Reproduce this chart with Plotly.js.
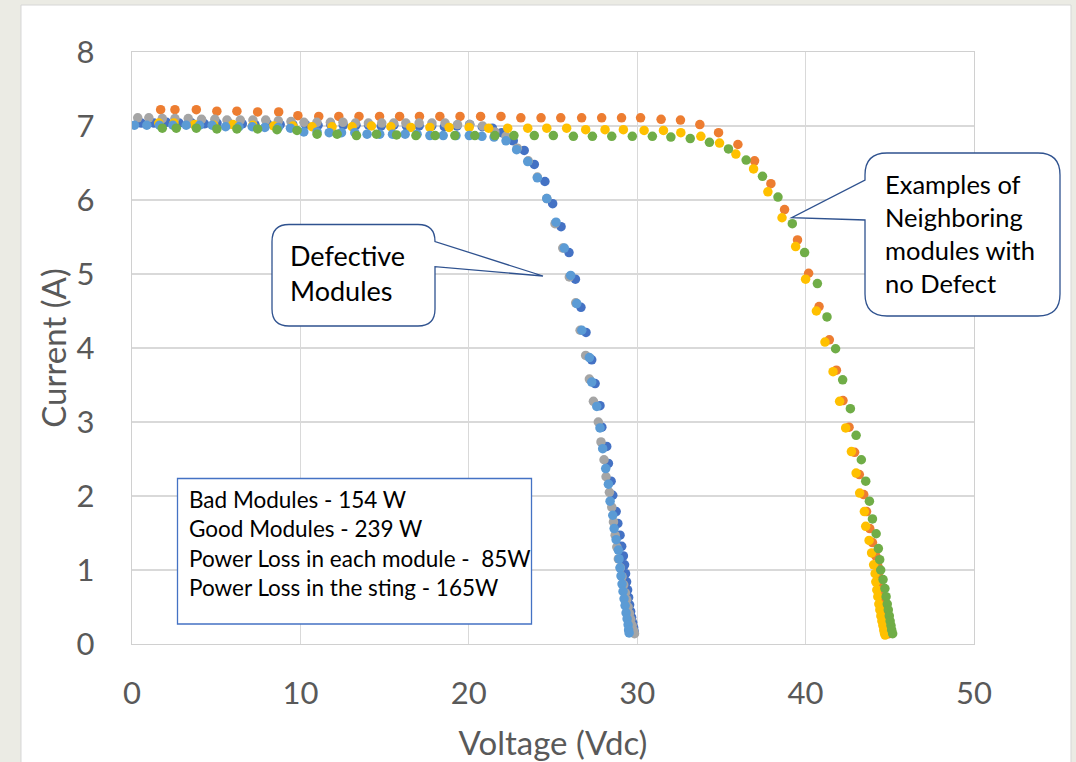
<!DOCTYPE html>
<html>
<head>
<meta charset="utf-8">
<script src="https://cdn.plot.ly/plotly-3.0.1.min.js"></script>
<style>html,body{margin:0;padding:0;background:#ebebe4;}#chart{width:1076px;height:762px;}</style>
</head>
<body>
<div id="chart"></div>
<script>
// ---- Data ----
// Defective modules
const voltsDark = [0.55,1.30,2.05,2.80,3.55,4.30,5.05,5.80,6.55,7.30,8.05,8.80,9.55,10.30,11.05,11.80,12.55,13.30,14.05,14.80,15.55,16.30,17.05,17.80,18.55,19.30,20.05,20.80,21.40,21.95,22.64,23.29,23.89,24.52,24.98,25.48,25.95,26.33,26.66,26.96,27.30,27.50,27.79,27.90,28.19,28.29,28.45,28.55,28.75,28.85,28.98,29.08,29.18,29.25,29.31,29.37,29.43,29.49,29.55,29.61,29.67,29.73,29.79,29.82];
const ampsDark  = [7.04,7.04,7.05,7.04,7.04,7.03,7.04,7.03,7.03,7.02,7.03,7.02,7.02,7.02,7.01,7.02,7.01,7.01,7.01,7.00,7.01,7.00,7.00,7.00,6.99,7.00,7.02,6.99,6.97,6.91,6.80,6.67,6.48,6.25,5.95,5.64,5.29,4.93,4.55,4.21,3.84,3.52,3.22,2.93,2.67,2.44,2.20,2.01,1.79,1.63,1.47,1.32,1.19,1.07,0.95,0.84,0.73,0.63,0.53,0.44,0.36,0.29,0.22,0.17];

const voltsGrey = [0.34,1.00,1.80,2.55,3.34,4.13,4.92,5.64,6.43,7.18,7.94,8.69,9.44,10.21,10.98,11.78,12.53,13.27,14.04,14.83,15.54,16.26,17.05,17.81,18.59,19.33,20.06,20.82,21.55,22.21,22.88,23.53,24.07,24.63,25.12,25.58,25.97,26.35,26.61,26.94,27.16,27.40,27.69,27.85,28.03,28.15,28.35,28.49,28.59,28.69,28.79,28.88,29.00,29.10,29.20,29.30,29.38,29.46,29.54,29.62,29.70,29.78,29.84];
const ampsGrey  = [7.11,7.11,7.10,7.10,7.10,7.09,7.09,7.08,7.08,7.08,7.08,7.07,7.06,7.05,7.05,7.05,7.05,7.04,7.04,7.04,7.04,7.04,7.04,7.04,7.04,7.02,7.02,7.00,6.92,6.86,6.70,6.53,6.31,6.02,5.68,5.35,4.96,4.61,4.24,3.90,3.58,3.28,3.00,2.73,2.49,2.26,2.05,1.85,1.65,1.47,1.31,1.15,1.03,0.91,0.80,0.69,0.60,0.50,0.41,0.33,0.25,0.18,0.14];

const voltsLightBlue = [0.15,0.88,1.63,2.43,3.22,4.01,4.76,5.56,6.35,7.14,7.89,8.69,9.41,10.20,10.99,11.71,12.44,13.23,13.96,14.71,15.47,16.22,16.93,17.69,18.48,19.24,20.03,20.78,21.50,22.21,22.84,23.50,24.07,24.63,25.18,25.67,26.05,26.41,26.71,27.16,27.30,27.60,27.79,27.95,28.13,28.29,28.39,28.55,28.63,28.75,28.88,28.92,28.98,29.04,29.10,29.16,29.22,29.28,29.34,29.40,29.46,29.49,29.52];
const ampsLightBlue  = [7.01,7.01,7.01,7.01,7.01,7.01,7.01,6.99,6.99,6.99,6.98,6.98,6.97,6.92,6.92,6.91,6.91,6.91,6.89,6.89,6.89,6.89,6.89,6.87,6.87,6.87,6.87,6.86,6.85,6.80,6.68,6.52,6.30,6.02,5.70,5.35,4.98,4.60,4.24,3.87,3.54,3.21,2.92,2.64,2.37,2.16,1.93,1.74,1.56,1.41,1.27,1.15,1.03,0.92,0.81,0.71,0.61,0.52,0.42,0.34,0.26,0.19,0.15];

// Neighbouring modules with no defect
const voltsOrange = [1.70,2.55,3.82,5.04,6.23,7.46,8.71,9.85,11.09,12.28,13.48,14.70,15.89,17.07,18.28,19.48,20.70,21.91,23.09,24.29,25.46,26.70,27.89,29.07,30.20,31.42,32.57,33.72,34.83,35.98,36.97,37.94,38.75,39.52,40.18,40.80,41.41,41.83,42.22,42.58,42.91,43.19,43.45,43.62,43.81,43.97,44.17,44.29,44.38,44.47,44.56,44.65,44.74,44.80,44.86,44.92,44.95];
const ampsOrange  = [7.22,7.22,7.22,7.20,7.20,7.19,7.19,7.14,7.13,7.13,7.13,7.13,7.13,7.13,7.13,7.13,7.13,7.13,7.11,7.11,7.11,7.11,7.11,7.11,7.11,7.09,7.08,7.02,6.91,6.75,6.53,6.22,5.87,5.46,5.01,4.56,4.11,3.70,3.29,2.93,2.59,2.29,2.02,1.79,1.56,1.37,1.19,1.05,0.90,0.76,0.64,0.53,0.44,0.35,0.26,0.19,0.14];

const voltsYellow = [1.59,2.49,3.72,4.86,5.99,7.18,8.41,9.56,10.69,11.88,13.07,14.22,15.37,16.56,17.69,18.83,20.02,21.18,22.31,23.50,24.63,25.81,26.94,28.09,29.18,30.41,31.56,32.59,33.78,34.89,35.86,36.91,37.76,38.60,39.41,40.00,40.64,41.15,41.63,42.02,42.38,42.72,43.00,43.21,43.49,43.57,43.77,43.92,44.04,44.13,44.17,44.23,44.29,44.35,44.41,44.47,44.53,44.59,44.64,44.68,44.72];
const ampsYellow  = [7.04,7.04,7.02,7.01,7.02,7.01,7.00,7.00,6.99,6.99,6.99,7.00,6.99,6.98,6.98,6.98,6.98,6.97,6.97,6.97,6.97,6.97,6.95,6.95,6.95,6.94,6.94,6.91,6.86,6.77,6.62,6.42,6.11,5.76,5.37,4.93,4.50,4.08,3.68,3.28,2.92,2.60,2.31,2.04,1.79,1.59,1.40,1.23,1.07,0.95,0.84,0.73,0.64,0.54,0.46,0.38,0.31,0.25,0.19,0.15,0.12];

const voltsGreen = [1.80,2.63,3.82,5.04,6.23,7.46,8.61,9.80,10.99,12.18,13.33,14.52,15.71,16.86,18.00,19.17,20.36,21.55,22.68,23.89,25.02,26.21,27.34,28.49,29.71,30.90,32.00,33.15,34.29,35.42,36.47,37.44,38.36,39.21,39.94,40.70,41.27,41.78,42.20,42.66,43.00,43.31,43.57,43.79,43.97,44.19,44.32,44.40,44.46,44.60,44.71,44.78,44.85,44.91,44.97,45.02,45.07,45.11,45.17];
const ampsGreen  = [6.97,6.97,6.97,6.96,6.96,6.96,6.95,6.94,6.89,6.89,6.87,6.89,6.88,6.87,6.87,6.87,6.87,6.87,6.87,6.87,6.87,6.86,6.86,6.86,6.86,6.86,6.85,6.83,6.78,6.69,6.54,6.32,6.04,5.68,5.29,4.87,4.42,3.99,3.57,3.18,2.82,2.49,2.20,1.93,1.69,1.49,1.29,1.14,1.00,0.87,0.75,0.64,0.54,0.46,0.38,0.31,0.25,0.19,0.14];

const xTicks = [0,10,20,30,40,50];
const yTicks = [0,1,2,3,4,5,6,7,8];
const xTitle = 'Voltage (Vdc)';
const yTitle = 'Current (A)';
const calloutDefective = 'Defective<br>Modules';
const calloutGood = 'Examples of<br>Neighboring<br>modules with<br>no Defect';
const statsLines = ['Bad Modules - 154 W','Good Modules - 239 W','Power Loss in each module -\u00a0 85W','Power Loss in the sting - 165W'];

// ---- Series (Office default colour order) ----
const series = [
  {x: voltsDark, y: ampsDark, color: '#4472C4'},
  {x: voltsOrange, y: ampsOrange, color: '#ED7D31'},
  {x: voltsGrey, y: ampsGrey, color: '#A5A5A5'},
  {x: voltsYellow, y: ampsYellow, color: '#FFC000'},
  {x: voltsLightBlue, y: ampsLightBlue, color: '#5B9BD5'},
  {x: voltsGreen, y: ampsGreen, color: '#70AD47'}
];
const traces = series.map(s => ({
  type: 'scatter', mode: 'markers', x: s.x, y: s.y,
  marker: {size: 9.5, color: s.color, line: {width: 0}},
  hoverinfo: 'x+y'
}));

// ---- Layout helpers (pixel -> paper) ----
const M = {l: 132, r: 102, t: 52, b: 118};
const PW = 1076 - M.l - M.r, PH = 762 - M.t - M.b;
const X = p => ((p - M.l) / PW).toFixed(5);
const Y = p => ((762 - M.b - p) / PH).toFixed(5);
function path(cmds) {
  return cmds.map(c => {
    const op = c[0];
    const pts = [];
    for (let i = 1; i < c.length; i += 2) pts.push(X(c[i]) + ',' + Y(c[i + 1]));
    return op + ' ' + pts.join(' ');
  }).join(' ') + ' Z';
}
const FONT = 'Lato, "Open Sans", sans-serif';
const calloutLine = {color: '#2F528F', width: 1.3};

const defPath = path([
  ['M', 289, 224.5], ['L', 418, 224.5], ['Q', 435, 224.5, 435, 241.5],
  ['L', 543, 276], ['L', 435, 266.7], ['L', 435, 309],
  ['Q', 435, 326, 418, 326], ['L', 289, 326], ['Q', 272, 326, 272, 309],
  ['L', 272, 241.5], ['Q', 272, 224.5, 289, 224.5]
]);
const goodPath = path([
  ['M', 887, 153], ['L', 1038, 153], ['Q', 1060, 153, 1060, 175],
  ['L', 1060, 294], ['Q', 1060, 316, 1038, 316], ['L', 887, 316],
  ['Q', 865, 316, 865, 294], ['L', 865, 220], ['L', 791.7, 217.7],
  ['L', 865, 180], ['L', 865, 175], ['Q', 865, 153, 887, 153]
]);

const layout = {
  width: 1076, height: 762,
  margin: M,
  paper_bgcolor: '#ebebe4',
  plot_bgcolor: '#ffffff',
  showlegend: false,
  font: {family: FONT, color: '#595959'},
  xaxis: {
    range: [0, 50], tickvals: xTicks, ticktext: xTicks.map(String),
    showgrid: true, gridcolor: '#d9d9d9', gridwidth: 1.3,
    zeroline: false, showline: true, mirror: true, linecolor: '#d0d0d0', linewidth: 1.3,
    ticks: '', ticklabelstandoff: 21,
    tickfont: {size: 31, color: '#595959', family: FONT},
    title: {text: xTitle, font: {size: 33, color: '#595959', family: FONT}, standoff: 27},
    automargin: false, fixedrange: true
  },
  yaxis: {
    range: [0, 8], tickvals: yTicks, ticktext: yTicks.map(String),
    showgrid: true, gridcolor: '#d9d9d9', gridwidth: 1.3,
    zeroline: false, showline: true, mirror: true, linecolor: '#d0d0d0', linewidth: 1.3,
    ticks: '', ticklabelstandoff: 30,
    tickfont: {size: 31, color: '#595959', family: FONT},
    title: {text: yTitle, font: {size: 33, color: '#595959', family: FONT}, standoff: 0},
    automargin: false, fixedrange: true
  },
  shapes: [
    {type: 'rect', xref: 'paper', yref: 'paper', x0: X(21), x1: X(1071), y0: Y(790), y1: Y(5),
     fillcolor: '#ffffff', line: {color: '#d6d6d6', width: 1}, layer: 'below'},
    {type: 'rect', xref: 'paper', yref: 'paper', x0: X(177.5), x1: X(531.5), y0: Y(624), y1: Y(478.5),
     fillcolor: '#ffffff', line: {color: '#4472C4', width: 1.3}, layer: 'above'},
    {type: 'path', xref: 'paper', yref: 'paper', path: defPath,
     fillcolor: '#ffffff', line: calloutLine, layer: 'above'},
    {type: 'path', xref: 'paper', yref: 'paper', path: goodPath,
     fillcolor: '#ffffff', line: calloutLine, layer: 'above'}
  ],
  annotations: [
    {xref: 'paper', yref: 'paper', x: X(288), y: Y(273), xanchor: 'left', yanchor: 'middle', align: 'left',
     text: calloutDefective, showarrow: false, font: {size: 27, color: '#000000', family: FONT}},
    {xref: 'paper', yref: 'paper', x: X(883), y: Y(234), xanchor: 'left', yanchor: 'middle', align: 'left',
     text: calloutGood, showarrow: false, font: {size: 25.5, color: '#000000', family: FONT}},
    {xref: 'paper', yref: 'paper', x: X(187), y: Y(544), xanchor: 'left', yanchor: 'middle', align: 'left',
     text: statsLines.join('<br>'), showarrow: false, font: {size: 22.5, color: '#000000', family: FONT}}
  ]
};

Plotly.newPlot('chart', traces, layout, {displayModeBar: false, staticPlot: true});
</script>
</body>
</html>
